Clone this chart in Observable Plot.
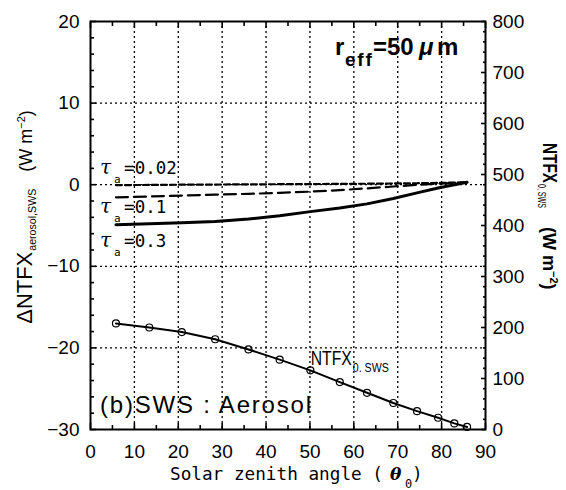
<!DOCTYPE html>
<html>
<head>
<meta charset="utf-8">
<script src="https://cdn.jsdelivr.net/npm/d3@7"></script>
<script src="https://cdn.jsdelivr.net/npm/@observablehq/plot@0.6"></script>
<style>
  html, body { margin: 0; padding: 0; background: #fff; }
  #chart { width: 566px; height: 490px; }
</style>
</head>
<body>
<div id="chart"></div>
<script>
// Solar zenith angles of the computed cases (degrees)
const zenith = [5.8, 13.4, 20.8, 28.4, 36.0, 43.1, 50.1, 56.8, 63.0, 69.0, 74.4, 79.2, 82.9, 85.8];
// Net total flux without aerosol, NTFX0,SWS (W m-2), read on the right axis
const ntfx0 = [208, 200, 191, 177, 157, 137, 116, 93, 72, 52, 36, 23, 12, 5];
// Aerosol-induced change ΔNTFX (W m-2), left axis, one series per optical thickness
const tauNames = ["0.02", "0.1", "0.3"];
const dTau002 = [-0.05, -0.03, 0.0, 0.02, 0.04, 0.06, 0.08, 0.1, 0.12, 0.15, 0.18, 0.22, 0.26, 0.3];
const dTau01 = [-1.55, -1.45, -1.33, -1.22, -1.12, -1.0, -0.85, -0.67, -0.45, -0.22, -0.02, 0.13, 0.22, 0.3];
const dTau03 = [-4.9, -4.8, -4.65, -4.5, -4.2, -3.8, -3.3, -2.85, -2.35, -1.7, -1.0, -0.4, 0.0, 0.3];
// Axis ticks
const xTicks = [0, 10, 20, 30, 40, 50, 60, 70, 80, 90];
const xMinor = [5, 15, 25, 35, 45, 55, 65, 75, 85];
const yTicksLeft = [-30, -20, -10, 0, 10, 20];
const yMinorLeft = d3.range(-28, 20, 2).filter(v => v % 10 !== 0);
const yTicksRight = [0, 100, 200, 300, 400, 500, 600, 700, 800];
const yMinorRight = d3.range(20, 800, 20).filter(v => v % 100 !== 0);
const xGrid = [10, 20, 30, 40, 50, 60, 70, 80];
const yGrid = [-20, -10, 0, 10];

// The right axis (0..800 W m-2) shares the frame with the left axis (-30..20 W m-2)
const toLeft = v => v / 16 - 30;
const toRight = d => Math.round((d + 30) * 16);

const series = [dTau002, dTau01, dTau03];
const dashes = ["6,3", "12,6", null];
const widths = [2.2, 2.2, 3];

const dotted = {stroke: "#000", strokeOpacity: 1, strokeWidth: 1.3, strokeDasharray: "2,3"};
const tickStyle = {stroke: "black", strokeWidth: 1.6, fill: "none", label: null};

const plot = Plot.plot({
  width: 566,
  height: 490,
  marginLeft: 90,
  marginRight: 81,
  marginTop: 21,
  marginBottom: 61,
  x: {domain: [0, 90], label: null},
  y: {domain: [-30, 20], label: null},
  style: {fontFamily: "'Liberation Sans', Arial, sans-serif", fontSize: "19px", color: "black", background: "white"},
  marks: [
    // dotted grid
    Plot.ruleX(xGrid, {x: d => d, ...dotted}),
    Plot.ruleY(yGrid, {y: d => d, ...dotted}),
    // inward tick marks on all four sides
    Plot.axisY(yMinorLeft, {...tickStyle, anchor: "left", tickSize: 4, dx: 4}),
    Plot.axisY(yTicksLeft, {...tickStyle, anchor: "left", tickSize: 6, dx: 6}),
    Plot.axisY(yMinorRight.map(toLeft), {...tickStyle, anchor: "right", tickSize: 3, dx: -3}),
    Plot.axisY(yTicksRight.map(toLeft), {...tickStyle, anchor: "right", tickSize: 5, dx: -5}),
    Plot.axisX(xMinor, {...tickStyle, anchor: "bottom", tickSize: 4, dy: -4}),
    Plot.axisX(xTicks, {...tickStyle, anchor: "bottom", tickSize: 6, dy: -6}),
    Plot.axisX(xMinor, {...tickStyle, anchor: "top", tickSize: 4, dy: 4}),
    Plot.axisX(xTicks, {...tickStyle, anchor: "top", tickSize: 6, dy: 6}),
    // tick labels
    Plot.axisY(yTicksLeft, {anchor: "left", tickSize: 0, tickPadding: 11, stroke: "none", fill: "black", label: null}),
    Plot.axisY(yTicksRight.map(toLeft), {anchor: "right", tickSize: 0, tickPadding: 7, stroke: "none", fill: "black", label: null, tickFormat: toRight}),
    Plot.axisX(xTicks, {anchor: "bottom", tickSize: 0, tickPadding: 15, stroke: "none", fill: "black", label: null}),
    // ΔNTFX curves for the three optical thicknesses
    ...series.map((s, k) => Plot.line(zenith, {
      x: zenith, y: s, stroke: "black", strokeWidth: widths[k], strokeDasharray: dashes[k]
    })),
    // NTFX0,SWS curve with markers
    Plot.line(zenith, {x: zenith, y: ntfx0.map(toLeft), stroke: "black", strokeWidth: 2}),
    Plot.dot(zenith, {x: zenith, y: ntfx0.map(toLeft), r: 3.5, stroke: "black", strokeWidth: 1.2, fill: "none"}),
    Plot.frame({stroke: "black", strokeWidth: 2})
  ]
});

document.getElementById("chart").appendChild(plot);

const svg = d3.select(plot);
const sx = plot.scale("x").apply;
const sy = plot.scale("y").apply;
const left = sx(0), right = sx(90), bottom = sy(-30);
const note = () => svg.append("text").attr("text-anchor", "start").attr("fill", "black");

// τa labels next to the curves
const tauY = [1.25, -3.55, -7.7];
tauNames.forEach((name, k) => {
  const x0 = sx(2.3);
  const t = note().attr("x", x0).attr("y", sy(tauY[k]))
    .style("font-family", "'DejaVu Sans Mono', monospace").style("font-size", "17.5px");
  t.append("tspan").text("τ")
    .style("font-family", "'DejaVu Serif', serif").style("font-style", "italic").style("font-size", "20px");
  t.append("tspan").attr("x", x0 + 14).attr("dy", 9).style("font-size", "11px").text("a");
  t.append("tspan").attr("x", x0 + 24).attr("dy", -9).text("=" + name);
});

// effective radius
{
  const x0 = sx(55.8);
  const t = note().attr("x", x0).attr("y", sy(15.83))
    .style("font-family", "'Liberation Sans', Arial, sans-serif").style("font-weight", "bold")
    .style("font-size", "24px");
  t.append("tspan").text("r");
  t.append("tspan").attr("x", x0 + 10).attr("dy", 11).style("font-size", "19px")
    .attr("textLength", 27).attr("lengthAdjust", "spacing").text("eff");
  t.append("tspan").attr("x", x0 + 38).attr("dy", -11).text("=50");
  t.append("tspan").attr("x", x0 + 84).style("font-style", "italic").text("μ");
  t.append("tspan").attr("x", x0 + 102).text("m");
}

// NTFX0,SWS curve label
{
  const x0 = sx(50.3);
  const t = note().attr("x", x0).attr("y", sy(-22.1))
    .style("font-family", "'Liberation Sans', Arial, sans-serif");
  t.append("tspan").style("font-size", "21px").attr("textLength", 41).attr("lengthAdjust", "spacingAndGlyphs").text("NTFX");
  t.append("tspan").attr("x", x0 + 42).attr("dy", 7).style("font-size", "12px")
    .attr("textLength", 36).attr("lengthAdjust", "spacingAndGlyphs").text("0. SWS");
}

// panel label
note().attr("x", sx(2.28)).attr("y", sy(-28.04))
  .style("font-family", "'Liberation Sans', Arial, sans-serif").style("font-size", "24px")
  .attr("textLength", 211).attr("lengthAdjust", "spacing")
  .text("(b)SWS : Aerosol");

// x-axis title
{
  const x0 = left + 80, y0 = bottom + 51;
  const t = note().attr("x", x0).attr("y", y0)
    .style("font-family", "'DejaVu Sans Mono', monospace").style("font-size", "17.7px");
  t.append("tspan").text("Solar zenith angle (");
  t.append("tspan").attr("x", x0 + 220)
    .style("font-family", "'DejaVu Serif', serif").style("font-style", "italic").style("font-weight", "bold")
    .style("font-size", "17px").text("θ");
  t.append("tspan").attr("x", x0 + 235).attr("dy", 8).style("font-size", "12px").text("0");
  t.append("tspan").attr("x", x0 + 242).attr("dy", -8).text(")");
}

// left axis title
{
  const t = note()
    .attr("transform", `translate(${left - 58},${sy(-17.1)}) rotate(-90)`)
    .style("font-family", "'Liberation Sans', Arial, sans-serif");
  t.append("tspan").attr("x", 0).style("font-size", "22px")
    .attr("textLength", 72).attr("lengthAdjust", "spacingAndGlyphs").text("ΔNTFX");
  t.append("tspan").attr("x", 73).attr("dy", 4).style("font-size", "11px")
    .attr("textLength", 62).attr("lengthAdjust", "spacingAndGlyphs").text("aerosol,SWS");
  t.append("tspan").attr("x", 152).attr("dy", -4).style("font-size", "18px").text("(W m");
  t.append("tspan").attr("dy", -7).style("font-size", "11px").text("−2");
  t.append("tspan").attr("dy", 7).style("font-size", "18px").text(")");
}

// right axis title
{
  const t = note()
    .attr("transform", `translate(${right + 58},${sy(5.05)}) rotate(90)`)
    .style("font-family", "'Liberation Sans', Arial, sans-serif").style("font-weight", "bold");
  t.append("tspan").attr("x", 0).style("font-size", "21px")
    .attr("textLength", 40).attr("lengthAdjust", "spacingAndGlyphs").text("NTFX");
  t.append("tspan").attr("x", 41).attr("dy", 5).style("font-size", "11px").style("font-weight", "normal")
    .attr("textLength", 24).attr("lengthAdjust", "spacingAndGlyphs").text("0, SWS");
  t.append("tspan").attr("x", 84).attr("dy", -5).style("font-size", "18px").text("(W m");
  t.append("tspan").attr("dy", -7).style("font-size", "11px").text("−2");
  t.append("tspan").attr("dy", 7).style("font-size", "18px").text(")");
}
</script>
</body>
</html>
